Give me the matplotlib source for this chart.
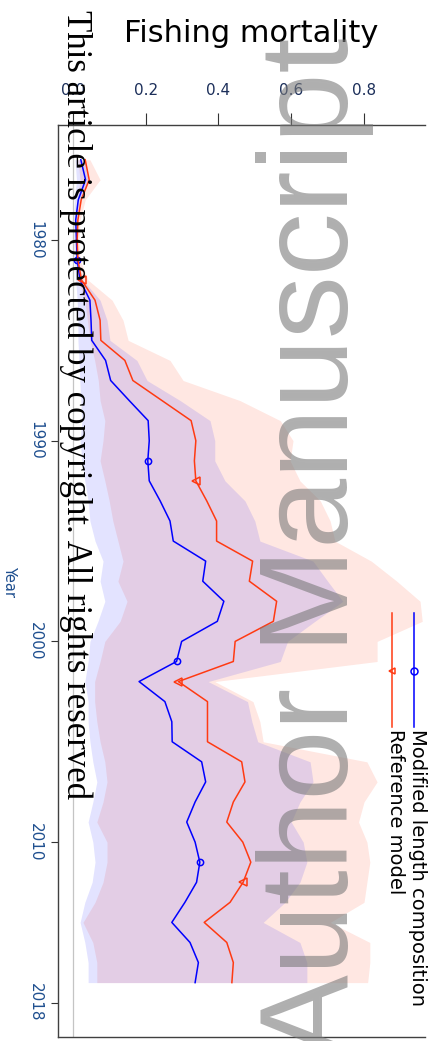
import matplotlib.pyplot as plt
import numpy as np

years = np.arange(1976, 2018)

# fishing mortality, modified length composition run
mod_f = [0.022, 0.035, 0.015, 0.008, 0.010, 0.012, 0.020, 0.047, 0.050, 0.052,
         0.090, 0.104, 0.155, 0.207, 0.210, 0.206, 0.210, 0.240, 0.267, 0.276,
         0.365, 0.357, 0.415, 0.397, 0.299, 0.285, 0.182, 0.253, 0.272, 0.273,
         0.354, 0.365, 0.336, 0.313, 0.336, 0.349, 0.340, 0.308, 0.272, 0.322,
         0.345, 0.336]
mod_lo = [0.006, 0.010, 0.005, 0.002, 0.003, 0.004, 0.008, 0.012, 0.014, 0.014,
          0.017, 0.019, 0.022, 0.025, 0.020, 0.025, 0.033, 0.042, 0.047, 0.061,
          0.083, 0.075, 0.088, 0.069, 0.047, 0.042, 0.033, 0.042, 0.042, 0.047,
          0.055, 0.066, 0.055, 0.042, 0.055, 0.061, 0.053, 0.033, 0.020, 0.033,
          0.042, 0.042]
mod_hi = [0.034, 0.042, 0.020, 0.012, 0.012, 0.014, 0.028, 0.075, 0.094, 0.102,
          0.176, 0.204, 0.295, 0.377, 0.390, 0.390, 0.418, 0.473, 0.500, 0.514,
          0.660, 0.700, 0.742, 0.665, 0.590, 0.570, 0.372, 0.480, 0.492, 0.508,
          0.652, 0.660, 0.624, 0.600, 0.633, 0.643, 0.624, 0.583, 0.523, 0.624,
          0.643, 0.643]

# fishing mortality, reference model
ref_f = [0.034, 0.045, 0.023, 0.014, 0.012, 0.014, 0.024, 0.061, 0.075, 0.077,
         0.143, 0.165, 0.245, 0.325, 0.338, 0.334, 0.338, 0.368, 0.395, 0.395,
         0.494, 0.485, 0.560, 0.551, 0.446, 0.441, 0.290, 0.370, 0.370, 0.370,
         0.464, 0.473, 0.441, 0.423, 0.467, 0.489, 0.468, 0.432, 0.361, 0.423,
         0.441, 0.437]
ref_lo = [0.014, 0.020, 0.012, 0.008, 0.008, 0.009, 0.015, 0.033, 0.040, 0.047,
          0.060, 0.070, 0.075, 0.088, 0.083, 0.075, 0.088, 0.100, 0.110, 0.124,
          0.138, 0.124, 0.149, 0.130, 0.088, 0.075, 0.060, 0.060, 0.066, 0.075,
          0.088, 0.094, 0.083, 0.066, 0.094, 0.094, 0.083, 0.061, 0.028, 0.055,
          0.066, 0.066]
ref_hi = [0.047, 0.075, 0.034, 0.020, 0.017, 0.020, 0.042, 0.108, 0.138, 0.152,
          0.267, 0.303, 0.459, 0.570, 0.605, 0.597, 0.624, 0.680, 0.707, 0.720,
          0.820, 0.890, 0.954, 0.960, 0.836, 0.836, 0.390, 0.495, 0.514, 0.523,
          0.808, 0.836, 0.800, 0.785, 0.808, 0.816, 0.808, 0.800, 0.707, 0.816,
          0.816, 0.810]

year_ticks = [1980, 1990, 2000, 2010, 2018]
f_ticks = [0.0, 0.2, 0.4, 0.6, 0.8]

blue = '#0000ff'
red = '#ff3a12'
tick_col = '#1f4f8f'

fig = plt.figure(figsize=(4.39, 10.41), dpi=100)
ax = fig.add_axes([58 / 439, 4 / 1041, 367 / 439, 912 / 1041])

ax.fill_betweenx(years, ref_lo, ref_hi, color=red, alpha=0.12, lw=0)
ax.fill_betweenx(years, mod_lo, mod_hi, color=blue, alpha=0.11, lw=0)
ax.axvline(0, color='#c4c4c4', lw=0.9, zorder=1)

ax.plot(mod_f, years, color=blue, lw=1.1, marker='o', ms=4.5, mfc='none',
        mew=1.1, markevery=[5, 15, 25, 35])
ax.plot(ref_f, years, color=red, lw=1.1, marker='<', ms=6, mfc='none',
        mew=1.1, markevery=[6, 16, 26, 36])

ax.set_xlim(-0.0407, 0.9676)
ax.set_ylim(2019.71, 1974.27)

ax.xaxis.tick_top()
ax.set_xticks(f_ticks)
ax.set_xticklabels([f'{v:.1f}' for v in f_ticks], color='#1c2f5a',
                   family=['Liberation Sans Narrow', 'DejaVu Sans'], fontsize=11)
ax.tick_params(axis='x', length=8.6, pad=11, color='#333333')

ax.set_yticks(year_ticks)
ax.set_yticklabels([str(y) for y in year_ticks], rotation=-90, va='center',
                   color=tick_col, fontsize=11)
ax.tick_params(axis='y', length=4.8, pad=6, color='#333333')

for side in ['left', 'top', 'bottom']:
    ax.spines[side].set_color('#404040')
    ax.spines[side].set_linewidth(1.0)
ax.spines['right'].set_visible(False)

fig.text(251 / 439, 1 - 33 / 1041, 'Fishing mortality', fontsize=22,
         ha='center', va='center', color='black')
fig.text(10 / 439, 1 - 581 / 1041, 'Year', fontsize=10.5, rotation=-90,
         ha='center', va='center', color=tick_col)

# legend drawn by hand in the rotated layout
legend_rows = [('Modified length composition', blue, 'o', 414),
               ('Reference model', red, '<', 391.7)]
for label, col, mk, xp in legend_rows:
    xf = xp / 439
    fig.add_artist(plt.Line2D([xf, xf], [1 - 613 / 1041, 1 - 727 / 1041],
                              color=col, lw=1.1, transform=fig.transFigure))
    fig.add_artist(plt.Line2D([xf], [1 - 671 / 1041], color=col, marker=mk,
                              ms=5, mfc='none', mew=1.1,
                              transform=fig.transFigure))
    fig.text(xf - 1.5 / 439, 1 - 729 / 1041, label, fontsize=14,
             rotation=-90, rotation_mode='anchor', ha='left', va='baseline',
             color='black')

# manuscript stamps
fig.text(348 / 439, 1 - 1058 / 1041, 'Author Manuscript',
         family='Liberation Sans', fontsize=90.5, rotation=90,
         rotation_mode='anchor', ha='left', va='baseline',
         color='#7a7a7a', alpha=0.6)
fig.text(67 / 439, 1 - 10 / 1041,
         'This article is protected by copyright. All rights reserved',
         family='Liberation Serif', fontsize=25, rotation=-90,
         rotation_mode='anchor', ha='left', va='baseline', color='black')

fig.savefig('out.png', dpi=100)
